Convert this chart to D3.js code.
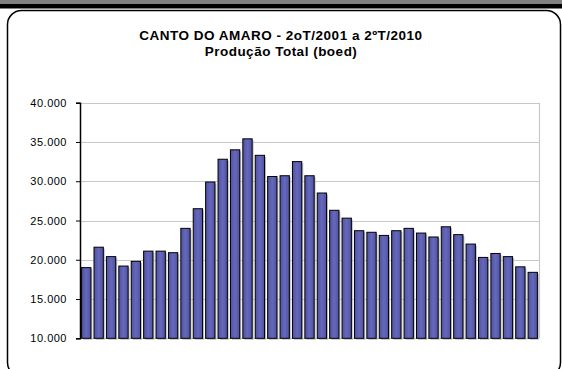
<!DOCTYPE html>
<html><head><meta charset="utf-8">
<script src="https://cdn.jsdelivr.net/npm/d3@7"></script>
<style>
html,body{margin:0;padding:0;background:#fff;}
svg{display:block;font-family:"Liberation Sans",Arial,sans-serif;}
</style></head>
<body>
<script>
const titleLines = ["CANTO DO AMARO - 2oT/2001 a 2ºT/2010", "Produção Total (boed)"];
const quarters = ["2T01","3T01","4T01","1T02","2T02","3T02","4T02","1T03","2T03","3T03","4T03","1T04","2T04","3T04","4T04","1T05","2T05","3T05","4T05","1T06","2T06","3T06","4T06","1T07","2T07","3T07","4T07","1T08","2T08","3T08","4T08","1T09","2T09","3T09","4T09","1T10","2T10"];
const production = [19000,21600,20400,19200,19800,21100,21100,20900,24000,26500,29900,32800,34000,35400,33300,30600,30700,32500,30700,28500,26300,25300,23700,23500,23100,23700,24000,23400,22900,24200,23200,22000,20300,20800,20400,19100,18400];
const yTicks = [10000,15000,20000,25000,30000,35000,40000];

const W = 562, H = 369;
const svg = d3.select("body").append("svg").attr("width", W).attr("height", H);

// frame
svg.append("rect").attr("x",0).attr("y",0).attr("width",W).attr("height",4).attr("fill","#808080");
svg.append("rect").attr("x",0).attr("y",4).attr("width",W).attr("height",4.5).attr("fill","#000");
svg.append("rect").attr("x",7.5).attr("y",10.5).attr("width",553).attr("height",366).attr("rx",14)
  .attr("fill","#fff").attr("stroke","#000").attr("stroke-width",1.5);

const m = {left:80, right:539, top:102.7, bottom:338.3};
const x = d3.scaleBand().domain(quarters).range([m.left, m.right]).paddingInner(0.25).paddingOuter(0.13);
const y = d3.scaleLinear().domain([10000,40000]).range([m.bottom, m.top]);

// gridlines
svg.append("g").selectAll("line").data(yTicks).join("line")
  .attr("x1", m.left).attr("x2", m.right)
  .attr("y1", d=>Math.round(y(d))+0.5).attr("y2", d=>Math.round(y(d))+0.5)
  .attr("stroke","#c8c8c8").attr("stroke-width",1.2);
svg.append("line").attr("x1",m.right+0.5).attr("x2",m.right+0.5).attr("y1",m.top).attr("y2",m.bottom)
  .attr("stroke","#c8c8c8").attr("stroke-width",1.2);

const defs = svg.append("defs");
const grad = defs.append("linearGradient").attr("id","bg").attr("x1","0").attr("x2","1").attr("y1","0").attr("y2","0");
grad.append("stop").attr("offset","0%").attr("stop-color","#4f52a3");
grad.append("stop").attr("offset","50%").attr("stop-color","#6669bb");
grad.append("stop").attr("offset","100%").attr("stop-color","#4f52a3");

// shadows
svg.append("g").selectAll("rect").data(production).join("rect")
  .attr("x",(d,i)=>x(quarters[i])+1.5).attr("y",d=>y(d)+1.5)
  .attr("width",x.bandwidth()).attr("height",d=>m.bottom-y(d))
  .attr("fill","#b0b0b0").attr("opacity",0.8);
// bars
svg.append("g").selectAll("rect").data(production).join("rect")
  .attr("x",(d,i)=>x(quarters[i])).attr("y",d=>y(d))
  .attr("width",x.bandwidth()).attr("height",d=>m.bottom-y(d))
  .attr("fill","url(#bg)").attr("stroke","#000").attr("stroke-width",1);

// y axis
const yAxis = d3.axisLeft(y).tickValues(yTicks).tickSize(4).tickPadding(9)
  .tickFormat(d=>d3.format(",")(d).replace(/,/g,"."));
const ga = svg.append("g").attr("transform",`translate(${m.left},0)`).call(yAxis);
ga.select(".domain").attr("stroke","#000").attr("stroke-width",1.5);
ga.selectAll(".tick line").attr("stroke","#000");
ga.selectAll("text").attr("font-size","11px").attr("fill","#000").attr("letter-spacing","0.5px")
  .attr("font-family","'Liberation Sans',Arial,sans-serif");

// title
svg.append("text").attr("x",281).attr("y",40).attr("text-anchor","middle").attr("font-weight","bold")
  .attr("font-size","13.5px").attr("letter-spacing","0.5px").attr("fill","#000").text(titleLines[0]);
svg.append("text").attr("x",281).attr("y",55.5).attr("text-anchor","middle").attr("font-weight","bold")
  .attr("font-size","13.5px").attr("letter-spacing","0.5px").attr("fill","#000").text(titleLines[1]);
</script>
</body></html>
